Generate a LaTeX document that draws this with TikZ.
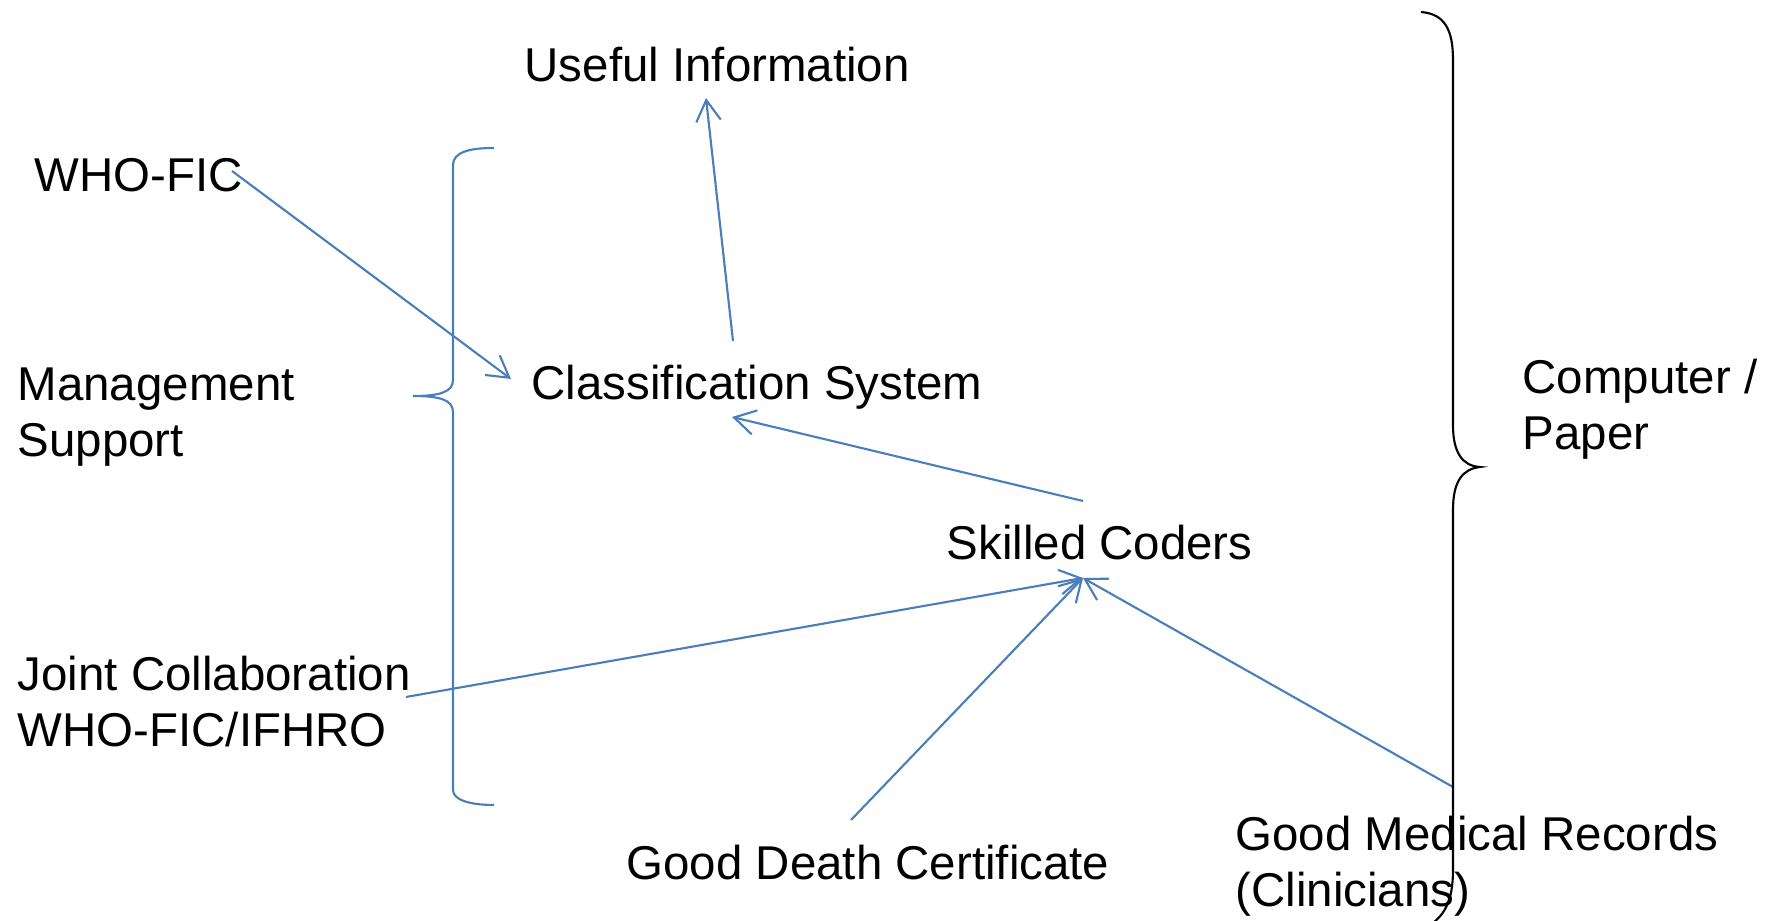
\documentclass[tikz,border=0pt]{standalone}
\usepackage{fontspec}
\setmainfont{Liberation Sans}
\usepackage{tikz}
\usetikzlibrary{calc, arrows.meta}
\definecolor{linkblue}{HTML}{4A7EBB}
\tikzset{txt/.style = {inner sep=0pt, align=left, font=\fontsize{13.5}{16}\selectfont},
         link/.style = {draw=linkblue, line width=0.6pt, -{Straight Barb[length=6pt, width=7pt]}}}
\begin{document}
\begin{tikzpicture}[x=0.1mm, y=-0.1mm]
            \useasboundingbox (0, 0) rectangle (1778, 921);

            \node [txt, anchor=base west]  (useful)  at ( 524,  82) {Useful Information};
            \node [txt, anchor=base west]  (whofic)  at (  34, 192) {WHO-FIC};
            \node [txt, anchor=north west] (mgmt)    at (  17, 367) {Management\\Support};
            \node [txt, anchor=base west]  (cls)     at ( 531, 400) {Classification System};
            \node [txt, anchor=base west]  (coders)  at ( 946, 560) {Skilled Coders};
            \node [txt, anchor=north west] (joint)   at (  17, 655) {Joint Collaboration\\WHO-FIC/IFHRO};
            \node [txt, anchor=base west]  (death)   at ( 626, 880) {Good Death Certificate};
            \node [txt, anchor=north west] (records) at (1235, 815) {Good Medical Records\\(Clinicians)};
            \node [txt, anchor=north west] (comp)    at (1522, 358) {Computer /\\Paper};

            \draw [link] ($(cls.base west)+(202,-59)$) -- ($(useful.base west)+(182,16)$);
            \draw [link] ($(whofic.base west)+(198,-21)$) -- ($(cls.base west)+(-20,-21)$);
            \draw [link] ($(coders.base west)+(137,-59)$) -- ($(cls.base west)+(201,17)$);
            \draw [link] ($(joint.north west)+(389,42)$) -- ($(coders.base west)+(137,18)$);
            \draw [link] ($(death.base west)+(225,-60)$) -- ($(coders.base west)+(137,18)$);
            \draw [link] ($(records.north west)+(218,-28)$) -- ($(coders.base west)+(137,18)$);

            \draw [linkblue, line width=0.6pt] (494, 148) .. controls (470, 148) and (453, 152) .. (453, 165)
                -- (453, 380) .. controls (453, 392) and (440, 396) .. (413, 396)
                .. controls (440, 396) and (453, 400) .. (453, 412)
                -- (453, 790) .. controls (453, 800) and (470, 805) .. (494, 805);
            \draw [line width=0.6pt] (1421, 12) .. controls (1445, 14) and (1453, 30) .. (1453, 60)
                -- (1453, 425) .. controls (1453, 452) and (1462, 466) .. (1480, 467)
                .. controls (1462, 469) and (1453, 482) .. (1453, 510)
                -- (1453, 870) .. controls (1453, 900) and (1445, 915) .. (1430, 925);
        \end{tikzpicture}
\end{document}
